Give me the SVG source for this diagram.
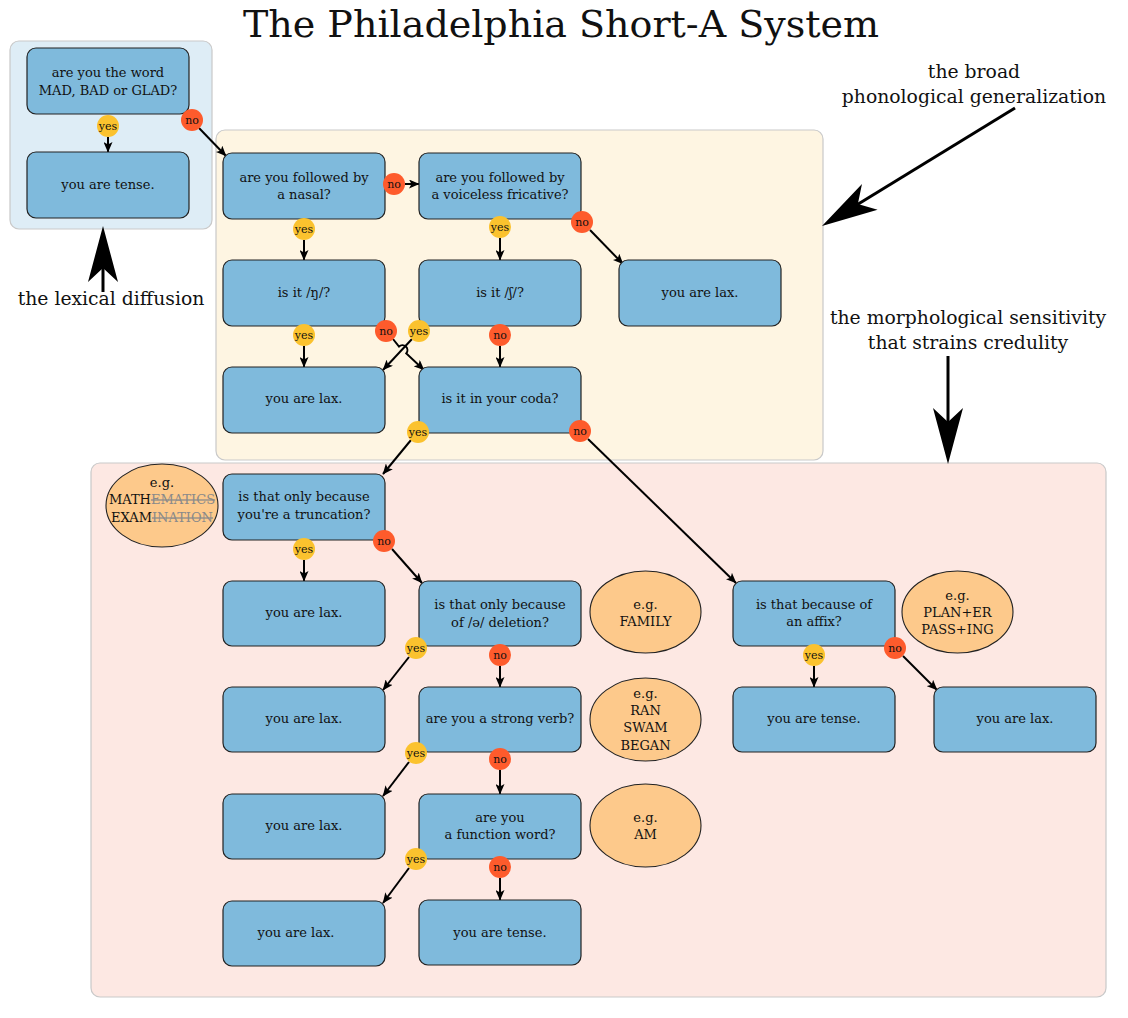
<svg xmlns="http://www.w3.org/2000/svg" width="1128" height="1018" viewBox="0 0 1128 1018">
<style>
text{font-family:"DejaVu Serif","Liberation Serif",serif;fill:#111;}
.t{font-size:13px;text-anchor:middle;dominant-baseline:central;}
.ann{font-size:18.8px;text-anchor:middle;}
.title{font-size:38px;text-anchor:middle;}
.box{fill:#7fbadc;stroke:#222;stroke-width:1.2;}
.ell{fill:#fdc98b;stroke:#222;stroke-width:1.1;}
.grp{stroke:#c9c9c9;stroke-width:1.2;}
.c{stroke:#000;stroke-width:2;fill:none;marker-end:url(#ah);}
.yes{fill:#fbc22e;}
.no{fill:#fe5b2c;}
.b{font-size:11px;text-anchor:middle;dominant-baseline:central;}
.strike{fill:#8a8a8a;text-decoration:line-through;}
</style>
<defs>
<marker id="ah" markerWidth="11" markerHeight="9" refX="10" refY="4.5" orient="auto" markerUnits="userSpaceOnUse">
<path d="M0,0 L10.5,4.5 L0,9 L2.5,4.5 z" fill="#000"/>
</marker>
<path id="bighead" d="M0,0 L-56,-15 L-42,0 L-56,15 z" fill="#000"/>
</defs>
<rect width="1128" height="1018" fill="#fff"/>

<text class="title" x="561" y="37">The Philadelphia Short-A System</text>

<g id="groups">
<rect class="grp" x="10" y="41" width="202" height="188" rx="9" fill="#deedf6"/>
<rect class="grp" x="216" y="130" width="607" height="330" rx="9" fill="#fef5e2"/>
<rect class="grp" x="91" y="463" width="1015" height="534" rx="9" fill="#fde8e3"/>
</g>

<g id="annotations">
<text class="ann" x="111" y="305">the lexical diffusion</text>
<line x1="103" y1="292" x2="103" y2="260" stroke="#000" stroke-width="3"/>
<use href="#bighead" transform="translate(103,226) rotate(-90)"/>
<text class="ann" x="974" y="78">the broad</text>
<text class="ann" x="974" y="103">phonological generalization</text>
<line x1="1015" y1="108" x2="855" y2="206" stroke="#000" stroke-width="3"/>
<use href="#bighead" transform="translate(822,226) rotate(148.6)"/>
<text class="ann" x="968" y="324">the morphological sensitivity</text>
<text class="ann" x="968" y="349">that strains credulity</text>
<line x1="948" y1="356" x2="948" y2="430" stroke="#000" stroke-width="3"/>
<use href="#bighead" transform="translate(948,464) rotate(90)"/>
</g>

<g id="connectors">
<line class="c" x1="108" y1="137" x2="108" y2="152"/>
<line class="c" x1="199" y1="128" x2="226" y2="156"/>
<line class="c" x1="405" y1="184" x2="419" y2="184"/>
<line class="c" x1="304" y1="240" x2="304" y2="260"/>
<line class="c" x1="500" y1="238" x2="500" y2="260"/>
<line class="c" x1="590" y1="230" x2="623" y2="264"/>
<line class="c" x1="304" y1="346" x2="304" y2="367"/>
<path class="c" d="M393,339 L399,346.6 A5,5 0 0 1 406.3,353.4 L424,370"/>
<line class="c" x1="412" y1="339" x2="383" y2="370"/>
<line class="c" x1="500" y1="346" x2="500" y2="367"/>
<line class="c" x1="411" y1="440" x2="383" y2="474"/>
<line class="c" x1="588" y1="439" x2="736" y2="583"/>
<line class="c" x1="304" y1="560" x2="304" y2="581"/>
<line class="c" x1="392" y1="549" x2="422" y2="583"/>
<line class="c" x1="409" y1="657" x2="383" y2="690"/>
<line class="c" x1="500" y1="666" x2="500" y2="687"/>
<line class="c" x1="409" y1="762" x2="383" y2="796"/>
<line class="c" x1="500" y1="770" x2="500" y2="794"/>
<line class="c" x1="409" y1="868" x2="383" y2="903"/>
<line class="c" x1="500" y1="878" x2="500" y2="900"/>
<line class="c" x1="814" y1="666" x2="814" y2="687"/>
<line class="c" x1="903" y1="656" x2="937" y2="690"/>
</g>

<g id="n1"><rect class="box" x="27" y="48" width="162" height="66" rx="9"/><text class="t" x="108" y="72">are you the word</text><text class="t" x="108" y="90">MAD, BAD or GLAD?</text></g>
<g id="n2"><rect class="box" x="27" y="152" width="162" height="66" rx="9"/><text class="t" x="108" y="184">you are tense.</text></g>
<g id="n3"><rect class="box" x="223" y="153" width="162" height="66" rx="9"/><text class="t" x="304" y="177">are you followed by</text><text class="t" x="304" y="194">a nasal?</text></g>
<g id="n4"><rect class="box" x="419" y="153" width="162" height="66" rx="9"/><text class="t" x="500" y="177">are you followed by</text><text class="t" x="500" y="194">a voiceless fricative?</text></g>
<g id="n5"><rect class="box" x="619" y="260" width="162" height="66" rx="9"/><text class="t" x="700" y="292">you are lax.</text></g>
<g id="n6"><rect class="box" x="223" y="260" width="162" height="66" rx="9"/><text class="t" x="304" y="292">is it /ŋ/?</text></g>
<g id="n7"><rect class="box" x="419" y="260" width="162" height="66" rx="9"/><text class="t" x="500" y="292">is it /ʃ/?</text></g>
<g id="n8"><rect class="box" x="223" y="367" width="162" height="66" rx="9"/><text class="t" x="304" y="398">you are lax.</text></g>
<g id="n9"><rect class="box" x="419" y="367" width="162" height="66" rx="9"/><text class="t" x="500" y="398">is it in your coda?</text></g>
<g id="n10"><rect class="box" x="223" y="474" width="162" height="66" rx="9"/><text class="t" x="304" y="496">is that only because</text><text class="t" x="304" y="514">you're a truncation?</text></g>
<g id="n11"><rect class="box" x="223" y="581" width="162" height="65" rx="9"/><text class="t" x="304" y="612">you are lax.</text></g>
<g id="n12"><rect class="box" x="419" y="581" width="162" height="65" rx="9"/><text class="t" x="500" y="604">is that only because</text><text class="t" x="500" y="622">of /ə/ deletion?</text></g>
<g id="n13"><rect class="box" x="223" y="687" width="162" height="65" rx="9"/><text class="t" x="304" y="718">you are lax.</text></g>
<g id="n14"><rect class="box" x="419" y="687" width="162" height="65" rx="9"/><text class="t" x="500" y="718">are you a strong verb?</text></g>
<g id="n15"><rect class="box" x="223" y="794" width="162" height="65" rx="9"/><text class="t" x="304" y="825">you are lax.</text></g>
<g id="n16"><rect class="box" x="419" y="794" width="162" height="65" rx="9"/><text class="t" x="500" y="817">are you</text><text class="t" x="500" y="834">a function word?</text></g>
<g id="n17"><rect class="box" x="223" y="901" width="162" height="65" rx="9"/><text class="t" x="296" y="932">you are lax.</text></g>
<g id="n18"><rect class="box" x="419" y="900" width="162" height="65" rx="9"/><text class="t" x="500" y="932">you are tense.</text></g>
<g id="n19"><rect class="box" x="733" y="581" width="162" height="65" rx="9"/><text class="t" x="814" y="604">is that because of</text><text class="t" x="814" y="621">an affix?</text></g>
<g id="n20"><rect class="box" x="733" y="687" width="162" height="65" rx="9"/><text class="t" x="814" y="718">you are tense.</text></g>
<g id="n21"><rect class="box" x="934" y="687" width="162" height="65" rx="9"/><text class="t" x="1015" y="718">you are lax.</text></g>

<g id="e1"><ellipse class="ell" cx="162" cy="505.5" rx="56" ry="41.5"/><text class="t" x="162" y="482">e.g.</text><text class="t" x="162" y="499">MATH<tspan class="strike">EMATICS</tspan></text><text class="t" x="162" y="517">EXAM<tspan class="strike">INATION</tspan></text></g>
<g id="e2"><ellipse class="ell" cx="645.5" cy="612" rx="55.5" ry="41"/><text class="t" x="645.5" y="604">e.g.</text><text class="t" x="645.5" y="621">FAMILY</text></g>
<g id="e3"><ellipse class="ell" cx="645.5" cy="719.5" rx="55.5" ry="41.5"/><text class="t" x="645.5" y="693">e.g.</text><text class="t" x="645.5" y="710">RAN</text><text class="t" x="645.5" y="727.5">SWAM</text><text class="t" x="645.5" y="745">BEGAN</text></g>
<g id="e4"><ellipse class="ell" cx="645.5" cy="825.5" rx="55.5" ry="41.5"/><text class="t" x="645.5" y="817">e.g.</text><text class="t" x="645.5" y="834">AM</text></g>
<g id="e5"><ellipse class="ell" cx="957.5" cy="612" rx="55.5" ry="41"/><text class="t" x="957.5" y="595">e.g.</text><text class="t" x="957.5" y="612">PLAN+ER</text><text class="t" x="957.5" y="629">PASS+ING</text></g>

<g id="badges">
<circle class="yes" cx="108" cy="126" r="11"/><text class="b" x="108" y="126">yes</text>
<circle class="no" cx="192" cy="120" r="11"/><text class="b" x="192" y="120">no</text>
<circle class="no" cx="394" cy="184" r="11"/><text class="b" x="394" y="184">no</text>
<circle class="yes" cx="304" cy="229" r="11"/><text class="b" x="304" y="229">yes</text>
<circle class="yes" cx="500" cy="227" r="11"/><text class="b" x="500" y="227">yes</text>
<circle class="no" cx="582" cy="222" r="11"/><text class="b" x="582" y="222">no</text>
<circle class="yes" cx="304" cy="335" r="11"/><text class="b" x="304" y="335">yes</text>
<circle class="no" cx="386" cy="331" r="11"/><text class="b" x="386" y="331">no</text>
<circle class="yes" cx="419" cy="331" r="11"/><text class="b" x="419" y="331">yes</text>
<circle class="no" cx="500" cy="335" r="11"/><text class="b" x="500" y="335">no</text>
<circle class="yes" cx="418" cy="432" r="11"/><text class="b" x="418" y="432">yes</text>
<circle class="no" cx="580" cy="431" r="11"/><text class="b" x="580" y="431">no</text>
<circle class="yes" cx="304" cy="549" r="11"/><text class="b" x="304" y="549">yes</text>
<circle class="no" cx="384" cy="541" r="11"/><text class="b" x="384" y="541">no</text>
<circle class="yes" cx="416" cy="648" r="11"/><text class="b" x="416" y="648">yes</text>
<circle class="no" cx="500" cy="655" r="11"/><text class="b" x="500" y="655">no</text>
<circle class="yes" cx="416" cy="753" r="11"/><text class="b" x="416" y="753">yes</text>
<circle class="no" cx="500" cy="759" r="11"/><text class="b" x="500" y="759">no</text>
<circle class="yes" cx="416" cy="859" r="11"/><text class="b" x="416" y="859">yes</text>
<circle class="no" cx="500" cy="867" r="11"/><text class="b" x="500" y="867">no</text>
<circle class="yes" cx="814" cy="655" r="11"/><text class="b" x="814" y="655">yes</text>
<circle class="no" cx="895" cy="648" r="11"/><text class="b" x="895" y="648">no</text>
</g>
</svg>
